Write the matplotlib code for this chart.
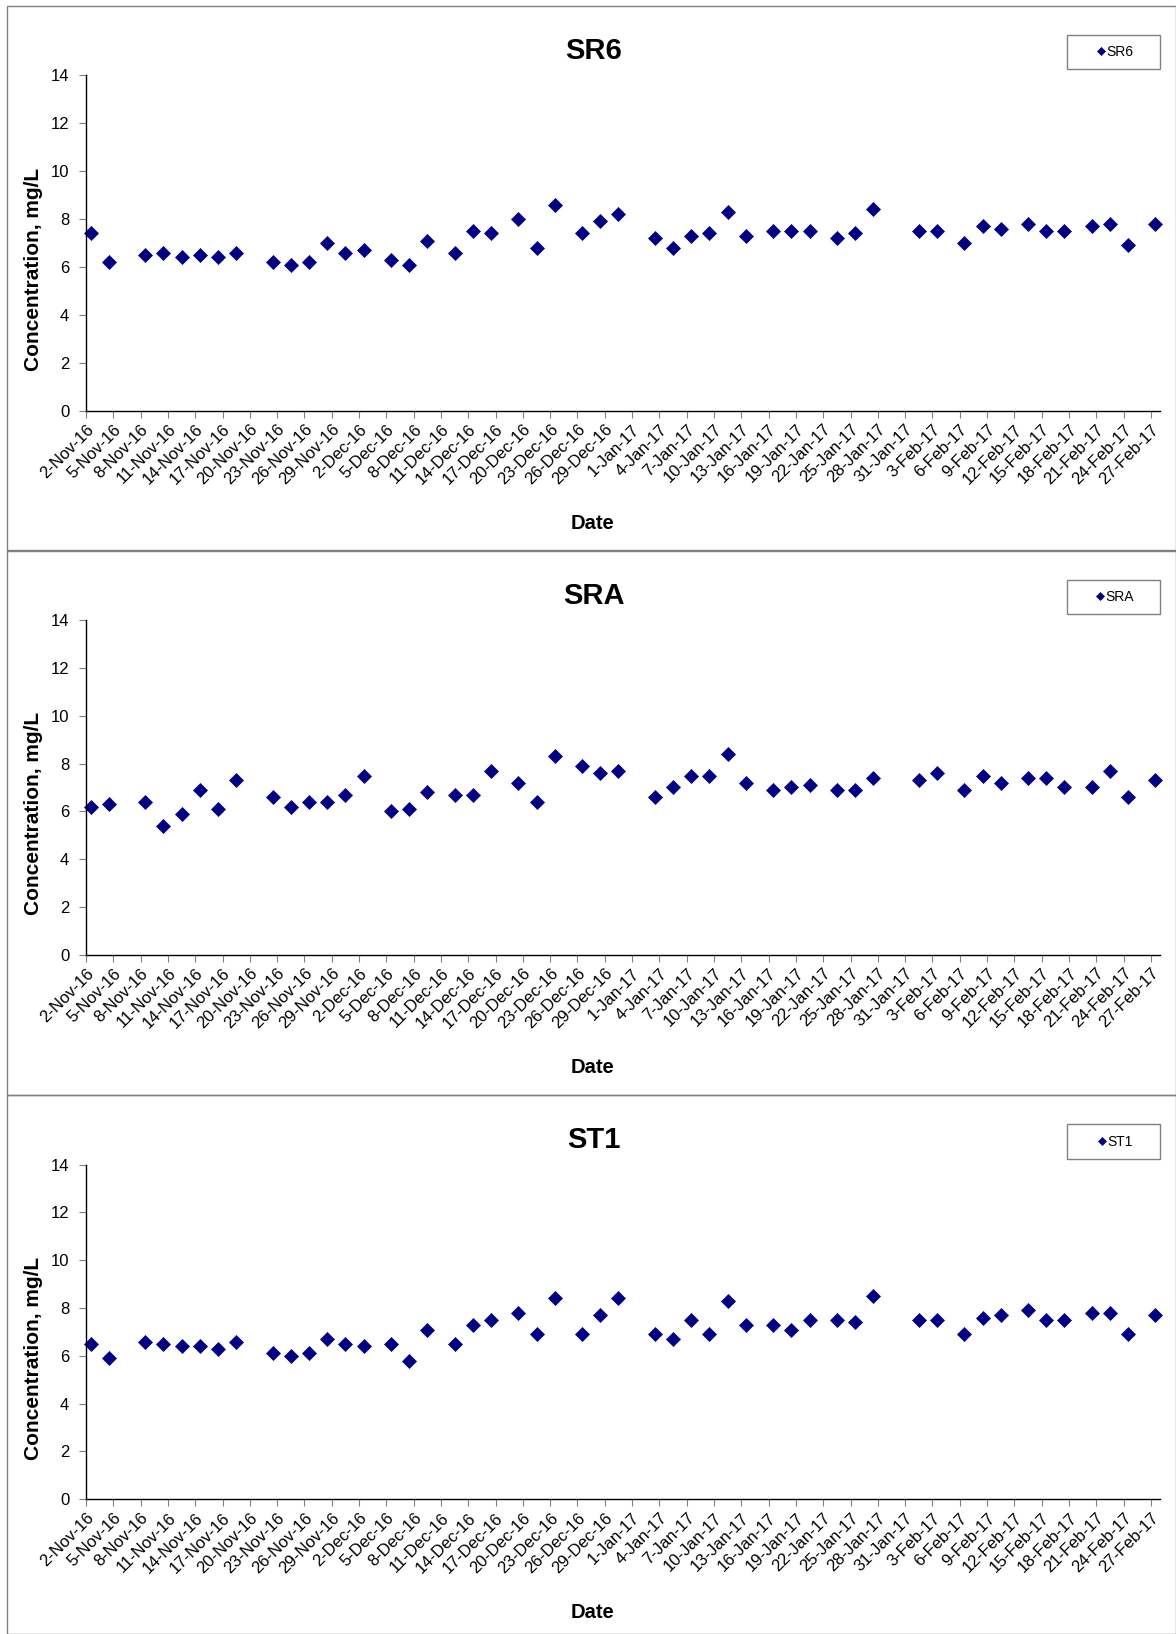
import matplotlib
matplotlib.use("Agg")
import matplotlib.pyplot as plt
from matplotlib.patches import Rectangle
import pandas as pd

plt.rcParams['font.family'] = ['Liberation Sans', 'DejaVu Sans']

sample_dates = [
    "2016-11-02", "2016-11-04", "2016-11-08", "2016-11-10", "2016-11-12",
    "2016-11-14", "2016-11-16", "2016-11-18", "2016-11-22", "2016-11-24",
    "2016-11-26", "2016-11-28", "2016-11-30", "2016-12-02", "2016-12-05",
    "2016-12-07", "2016-12-09", "2016-12-12", "2016-12-14", "2016-12-16",
    "2016-12-19", "2016-12-21", "2016-12-23", "2016-12-26", "2016-12-28",
    "2016-12-30", "2017-01-03", "2017-01-05", "2017-01-07", "2017-01-09",
    "2017-01-11", "2017-01-13", "2017-01-16", "2017-01-18", "2017-01-20",
    "2017-01-23", "2017-01-25", "2017-01-27", "2017-02-01", "2017-02-03",
    "2017-02-06", "2017-02-08", "2017-02-10", "2017-02-13", "2017-02-15",
    "2017-02-17", "2017-02-20", "2017-02-22", "2017-02-24", "2017-02-27",
]

sr6 = [7.4, 6.2, 6.5, 6.6, 6.4, 6.5, 6.4, 6.6, 6.2, 6.1,
       6.2, 7.0, 6.6, 6.7, 6.3, 6.1, 7.1, 6.6, 7.5, 7.4,
       8.0, 6.8, 8.6, 7.4, 7.9, 8.2, 7.2, 6.8, 7.3, 7.4,
       8.3, 7.3, 7.5, 7.5, 7.5, 7.2, 7.4, 8.4, 7.5, 7.5,
       7.0, 7.7, 7.6, 7.8, 7.5, 7.5, 7.7, 7.8, 6.9, 7.8]

sra = [6.2, 6.3, 6.4, 5.4, 5.9, 6.9, 6.1, 7.3, 6.6, 6.2,
       6.4, 6.4, 6.7, 7.5, 6.0, 6.1, 6.8, 6.7, 6.7, 7.7,
       7.2, 6.4, 8.3, 7.9, 7.6, 7.7, 6.6, 7.0, 7.5, 7.5,
       8.4, 7.2, 6.9, 7.0, 7.1, 6.9, 6.9, 7.4, 7.3, 7.6,
       6.9, 7.5, 7.2, 7.4, 7.4, 7.0, 7.0, 7.7, 6.6, 7.3]

st1 = [6.5, 5.9, 6.6, 6.5, 6.4, 6.4, 6.3, 6.6, 6.1, 6.0,
       6.1, 6.7, 6.5, 6.4, 6.5, 5.8, 7.1, 6.5, 7.3, 7.5,
       7.8, 6.9, 8.4, 6.9, 7.7, 8.4, 6.9, 6.7, 7.5, 6.9,
       8.3, 7.3, 7.3, 7.1, 7.5, 7.5, 7.4, 8.5, 7.5, 7.5,
       6.9, 7.6, 7.7, 7.9, 7.5, 7.5, 7.8, 7.8, 6.9, 7.7]

stations = ["SR6", "SRA", "ST1"]
series = [sr6, sra, st1]

axis_start = "2016-11-02"
axis_end = "2017-02-28"
tick_step_days = 3

W, H = 1176, 1634
fig = plt.figure(figsize=(W / 100, H / 100), dpi=100)

# pixel layout of each panel (frame top, frame bottom, plot top, plot bottom)
panels = [(6, 550.5, 75.3, 410.7), (550.5, 1094.7, 620.3, 954.6), (1094.7, 1634, 1164.6, 1499.3)]
plot_left, plot_right = 86, 1160
pw = plot_right - plot_left

dates = pd.to_datetime(sample_dates)
# Excel date axis puts each point in the middle of its day
x = dates + pd.Timedelta(hours=12)
ticks = pd.date_range(axis_start, axis_end, freq=f"{tick_step_days}D")
ticks = ticks[ticks < pd.Timestamp(axis_end)]

navy = "#000080"
gray = "#808080"

for name, vals, (ftop, fbot, ptop, pbot) in zip(stations, series, panels):
    fig.patches.append(Rectangle((7 / W, 1 - fbot / H), (W - 7) / W, (fbot - ftop) / H,
                                 transform=fig.transFigure, fill=False, edgecolor=gray, lw=1))
    ax = fig.add_axes([plot_left / W, 1 - pbot / H, pw / W, (pbot - ptop) / H])
    ax.plot(x, vals, linestyle='none', marker='D', markersize=7.2, color=navy,
            markeredgewidth=0.5, label=name, clip_on=False)

    ax.set_ylim(0, 14)
    ax.set_yticks(range(0, 15, 2))
    ax.set_xlim(pd.Timestamp(axis_start), pd.Timestamp(axis_end))
    ax.set_xticks(ticks)
    ax.set_xticklabels([f"{d.day}-{d.strftime('%b-%y')}" for d in ticks],
                       rotation=45, ha='right', va='top', rotation_mode='anchor')

    for s in ['top', 'right']:
        ax.spines[s].set_visible(False)
    for s in ['left', 'bottom']:
        ax.spines[s].set_color('black')
        ax.spines[s].set_linewidth(1.0)
    ax.tick_params(axis='y', labelsize=12, length=5, color=gray, pad=7)
    ax.tick_params(axis='x', labelsize=12, length=5, color=gray, pad=3)

    h = pbot - ptop
    ax.set_ylabel("Concentration, mg/L", fontsize=15, fontweight='bold')
    ax.yaxis.set_label_coords((43 - plot_left) / pw, 0.422)

    ax.text((594 - plot_left) / pw, 1 + 24.3 / h, name,
            transform=ax.transAxes, ha='center', va='center', fontsize=21, fontweight='bold')
    ax.text((593 - plot_left) / pw, -113 / h, "Date",
            transform=ax.transAxes, ha='center', va='center', fontsize=14.5, fontweight='bold')

    # legend box, 23 px above the plot area
    lx = (1113.4 - plot_left) / pw
    ly = 1 + 23.1 / h
    ax.add_patch(Rectangle((lx - 46.7 / pw, ly - 17.2 / h), 93.3 / pw, 34.4 / h,
                           transform=ax.transAxes, fill=False, edgecolor=gray, lw=1, clip_on=False))
    ax.legend(loc='center', bbox_to_anchor=(lx + 2 / pw, ly), frameon=False, fontsize=10,
              handlelength=0.5, handletextpad=0.15, borderpad=0, markerscale=0.6)

fig.savefig("out.png", dpi=100)
